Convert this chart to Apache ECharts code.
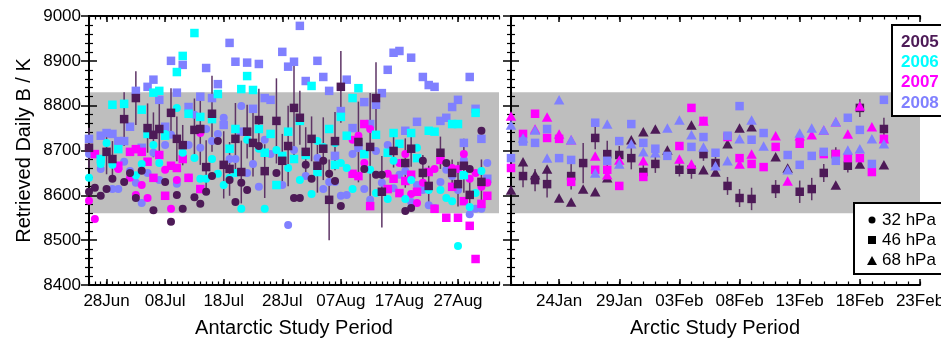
<!DOCTYPE html>
<html>
<head>
<meta charset="utf-8">
<script src="https://cdn.jsdelivr.net/npm/echarts@6/dist/echarts.min.js"></script>
<style>
html,body{margin:0;padding:0;background:#fff}
#main{width:941px;height:339px}
</style>
</head>
<body>
<div id="main"></div>
<script>
// Antarctic: day 0 = 25 Jun ; Arctic: day 0 = 20 Jan
const antTickDays = [3, 13, 23, 33, 43, 53, 63];
const antTickLabels = ['28Jun', '08Jul', '18Jul', '28Jul', '07Aug', '17Aug', '27Aug'];
const arcTickDays = [4, 9, 14, 19, 24, 29, 34];
const arcTickLabels = ['24Jan', '29Jan', '03Feb', '08Feb', '13Feb', '18Feb', '23Feb'];
const bandRange = [8560, 8830];
const years = ['2005', '2006', '2007', '2008'];
const yearColors = ['#4d1a57', '#00ffff', '#ff00ff', '#8080ff'];
const levels = ['32 hPa', '46 hPa', '68 hPa'];

// Antarctic, 32 hPa (circles): [day, B]
const antCi05 = [[0,8608],[1,8617],[2,8599],[3,8614],[4,8637],[6,8630],[7,8650],[8,8594],[9,8655],[11,8567],[13,8630],[14,8541],[15,8601],[16,8570],[18,8596],[19,8581],[20,8608],[21,8643],[22,8721],[24,8634],[25,8585],[26,8628],[27,8612],[29,8710],[32,8650],[35,8594],[36,8594],[37,8668],[38,8637],[40,8677],[41,8648],[42,8632],[43,8576],[47,8659],[49,8646],[50,8646],[54,8565],[55,8572],[57,8677],[61,8672],[65,8659],[67,8744]];
const antCi06 = [[0,8639],[2,8670],[3,8717],[4,8668],[8,8645],[9,8670],[11,8712],[12,8672],[13,8737],[15,8795],[16,8695],[18,8683],[19,8637],[20,8637],[21,8681],[22,8648],[23,8623],[24,8639],[25,8650],[26,8570],[27,8724],[29,8704],[30,8570],[32,8701],[34,8661],[36,8634],[38,8603],[39,8721],[40,8708],[42,8717],[43,8672],[44,8661],[45,8614],[48,8657],[49,8605],[51,8592],[52,8677],[54,8592],[55,8634],[56,8706],[58,8612],[60,8612],[61,8594],[62,8587],[63,8487],[65,8574],[66,8605],[67,8654]];
const antCi07 = [[0,8588],[1,8547],[5,8659],[7,8639],[8,8601],[9,8623],[10,8594],[13,8657],[14,8570],[15,8634],[17,8639],[19,8739],[45,8724],[46,8733],[47,8672],[48,8748],[51,8648],[53,8672],[54,8692],[55,8603],[56,8583],[57,8628],[59,8659],[62,8661],[63,8659],[64,8692],[65,8637],[66,8650],[67,8619],[68,8628]];
const antCi08 = [[0,8692],[2,8659],[4,8614],[5,8614],[6,8675],[7,8654],[8,8628],[9,8583],[10,8650],[11,8695],[12,8634],[13,8712],[14,8735],[15,8626],[17,8712],[18,8780],[19,8706],[20,8748],[21,8721],[22,8737],[23,8773],[24,8681],[25,8681],[26,8799],[27,8650],[28,8670],[29,8619],[30,8724],[31,8692],[33,8623],[34,8534],[35,8701],[36,8773],[37,8643],[39,8683],[40,8614],[41,8630],[42,8630],[43,8599],[44,8601],[45,8692],[47,8614],[48,8590],[49,8699],[50,8628],[51,8712],[52,8616],[53,8646],[54,8654],[55,8585],[56,8623],[57,8612],[58,8578],[59,8572],[60,8630],[61,8657],[62,8643],[63,8612],[64,8679],[65,8558],[66,8570],[67,8570],[68,8672]];

// Antarctic, 46 hPa (squares); 2005 carries [day, B, error]
const antSq05 = [[0,8706,45],[3,8697,50],[4,8681,40],[6,8770,60],[8,8817,60],[10,8750,55],[11,8735,50],[12,8748,65],[14,8784,55],[15,8726,50],[16,8712,45],[18,8746,70],[19,8748,80],[20,8663,60],[21,8782,85],[23,8668,75],[24,8659,60],[25,8726,80],[26,8652,70],[27,8742,60],[28,8717,75],[29,8768,70],[30,8654,60],[32,8766,95],[33,8677,60],[34,8710,90],[35,8795,110],[36,8773,60],[37,8697,55],[38,8726,50],[39,8666,60],[40,8704,70],[41,8590,90],[42,8721,65],[43,8842,80],[46,8719,90],[48,8708,120],[49,8817,80],[50,8608,80],[52,8699,37],[54,8672,55],[55,8704,40],[57,8650,40],[58,8621,45],[60,8695,36],[62,8650,30],[63,8625,50],[64,8666,60],[65,8601,40],[67,8630,50]];
const antSq06 = [[2,8681],[4,8802],[5,8703],[6,8804],[9,8791],[10,8737],[11,8829],[12,8833],[13,8733],[15,8875],[16,8911],[17,8782],[18,8962],[19,8775],[21,8770],[22,8826],[24,8704],[25,8748],[26,8837],[27,8866],[28,8835],[29,8748],[30,8695],[31,8737],[32,8623],[33,8688],[34,8742],[35,8681],[36,8766],[37,8690],[38,8844],[39,8652],[41,8748],[42,8668],[43,8775],[44,8733],[45,8817],[46,8839],[47,8692],[49,8735],[51,8695],[52,8739],[53,8715],[55,8739],[56,8683],[58,8744],[59,8742],[62,8759],[63,8759],[64,8645],[66,8784]];
const antSq07 = [[1,8692],[5,8666],[7,8697],[8,8703],[9,8697],[10,8675],[11,8639],[12,8690],[13,8599],[14,8666],[15,8661],[16,8681],[17,8639],[19,8614],[45,8648],[46,8643],[47,8759],[48,8576],[51,8614],[52,8637],[53,8605],[54,8632],[55,8646],[56,8608],[58,8652],[59,8570],[60,8679],[61,8550],[62,8619],[63,8550],[64,8587],[65,8532],[66,8458],[67,8581],[68,8599]];
const antSq08 = [[0,8726],[2,8733],[3,8739],[4,8737],[5,8721],[6,8721],[7,8753],[8,8833],[9,8706],[10,8842],[11,8858],[12,8813],[13,8753],[14,8900],[15,8829],[16,8891],[17,8797],[19,8820],[20,8884],[21,8817],[22,8848],[23,8757],[24,8940],[25,8898],[26,8742],[27,8896],[28,8793],[29,8893],[30,8817],[31,8813],[33,8920],[34,8887],[35,8898],[36,8978],[37,8855],[39,8900],[40,8864],[41,8833],[42,8688],[43,8788],[44,8858],[45,8750],[46,8706],[47,8808],[48,8759],[49,8802],[50,8828],[51,8880],[52,8918],[53,8922],[54,8744],[55,8907],[56,8764],[57,8864],[58,8846],[59,8842],[60,8766],[61,8773],[62,8797],[63,8813],[64,8717],[65,8864],[66,8793],[67,8726],[68,8637]];

// Arctic, 46 hPa (squares) and 68 hPa (triangles)
const arcSq05 = [[1,8643,25],[2,8634,25],[3,8625,30],[5,8643,30],[6,8672,45],[7,8728,25],[8,8692,30],[9,8690,20],[10,8683,25],[11,8652,20],[12,8670,20],[14,8657,15],[15,8657,20],[16,8692,15],[17,8672,15],[18,8621,20],[19,8594,20],[20,8592,25],[22,8614,20],[24,8608,25],[25,8614,25],[26,8650,20],[27,8692,15],[28,8666,15],[29,8795,20],[31,8748,25]];
const arcTr05 = [[0,8612],[1,8675],[2,8646],[3,8659],[4,8594],[5,8585],[6,8614],[7,8608],[8,8639],[10,8724],[11,8742],[12,8748],[13,8701],[15,8757],[16,8657],[17,8652],[18,8715],[19,8750],[20,8753],[22,8686],[23,8661],[27,8623],[29,8670],[31,8668]];
const arcSq07 = [[0,8661],[1,8737],[2,8782],[3,8728],[4,8726],[5,8630],[7,8657],[8,8657],[9,8621],[11,8641],[14,8710],[15,8795],[16,8766],[18,8730],[19,8683],[20,8670],[21,8663],[22,8708],[24,8715],[26,8692],[27,8692],[28,8683],[29,8683],[30,8652],[31,8726]];
const arcTr07 = [[0,8777],[2,8748],[3,8775],[4,8737],[5,8724],[7,8688],[8,8646],[9,8679],[11,8677],[14,8681],[15,8670],[16,8766],[19,8670],[20,8692],[22,8733],[23,8632],[24,8733],[25,8735],[26,8746],[27,8764],[28,8737],[29,8799],[30,8753],[31,8726]];
const arcSq08 = [[0,8683],[1,8720],[2,8717],[3,8748],[4,8683],[5,8679],[7,8762],[8,8677],[9,8721],[10,8759],[11,8717],[12,8704],[13,8688],[15,8708],[16,8730],[17,8695],[18,8733],[19,8799],[20,8724],[21,8739],[23,8690],[24,8668],[25,8688],[26,8697],[27,8677],[28,8773],[29,8746],[30,8670],[31,8813]];
const arcTr08 = [[0,8757],[1,8728],[2,8746],[3,8683],[4,8813],[5,8724],[7,8650],[8,8759],[9,8670],[10,8715],[11,8697],[12,8695],[13,8750],[14,8768],[15,8735],[16,8708],[17,8666],[18,8677],[19,8726],[20,8768],[21,8710],[23,8657],[24,8739],[25,8750],[26,8746],[27,8764],[28,8701],[29,8704],[30,8726],[31,8715]];

const FONT = '"Liberation Sans", Arial, Helvetica, sans-serif';
const chart = echarts.init(document.getElementById('main'), null, {renderer: 'canvas'});

function xAxes(grid, min, max, tickDays, tickLabels, name) {
  const daily = [];
  for (let d = min; d <= max; d++) daily.push(d);
  const base = {type: 'value', gridIndex: grid, min: min, max: max, z: 2, splitLine: {show: false}};
  const line = {show: true, lineStyle: {color: '#000', width: 2}};
  const major = {show: true, inside: true, length: 6, customValues: tickDays, lineStyle: {color: '#000', width: 1.5}};
  const minor = {show: true, inside: true, length: 3.5, customValues: daily, lineStyle: {color: '#000', width: 1.2}};
  return [
    Object.assign({}, base, {position: 'bottom', name: name, nameLocation: 'middle', nameGap: 33,
      nameTextStyle: {fontSize: 20, color: '#000', fontFamily: FONT},
      axisLine: line, axisTick: major,
      axisLabel: {customValues: tickDays, formatter: v => tickLabels[tickDays.indexOf(v)],
        fontSize: 17, color: '#000', margin: 8, fontFamily: FONT}}),
    Object.assign({}, base, {position: 'bottom', axisLine: {show: false}, axisTick: minor, axisLabel: {show: false}}),
    Object.assign({}, base, {position: 'top', axisLine: line, axisTick: major, axisLabel: {show: false}}),
    Object.assign({}, base, {position: 'top', axisLine: {show: false}, axisTick: minor, axisLabel: {show: false}})
  ];
}

function yAxis(grid, pos, withLabels) {
  const ax = {type: 'value', gridIndex: grid, position: pos, min: 8400, max: 9000, interval: 100, z: 2,
    splitLine: {show: false},
    axisLine: {show: true, lineStyle: {color: '#000', width: 2}},
    axisTick: {show: true, inside: true, length: 8, lineStyle: {color: '#000', width: 1.5}},
    minorTick: {show: true, splitNumber: 5, length: 4, lineStyle: {color: '#000', width: 1.2}},
    axisLabel: {show: withLabels, formatter: v => String(v), fontSize: 17, color: '#000', margin: 8, fontFamily: FONT}};
  if (withLabels) {
    ax.name = 'Retrieved Daily B / K';
    ax.nameLocation = 'middle';
    ax.nameGap = 55;
    ax.nameTextStyle = {fontSize: 20, color: '#000', fontFamily: FONT};
  }
  return ax;
}

function dots(data, symbol, size, color, xi, yi) {
  return {type: 'scatter', xAxisIndex: xi, yAxisIndex: yi, z: 4, silent: true,
    symbol: symbol, symbolSize: size, data: data.map(p => [p[0], p[1]]),
    itemStyle: {color: color, opacity: 1}};
}

function errBars(data, xi, yi) {
  return {type: 'custom', xAxisIndex: xi, yAxisIndex: yi, z: 3, silent: true,
    data: data.map(p => [p[0], p[1] - p[2], p[1] + p[2]]),
    renderItem: function (params, api) {
      const a = api.coord([api.value(0), api.value(1)]);
      const b = api.coord([api.value(0), api.value(2)]);
      return {type: 'line', shape: {x1: a[0], y1: a[1], x2: b[0], y2: b[1]},
        style: {stroke: '#5e3466', lineWidth: 1.5}};
    }};
}

function band(xi, yi) {
  return {type: 'scatter', xAxisIndex: xi, yAxisIndex: yi, z: 1, silent: true, data: [],
    markArea: {silent: true, itemStyle: {color: '#bebebe'},
      data: [[{yAxis: bandRange[0]}, {yAxis: bandRange[1]}]]}};
}

const SQ = 8.5, CI = 8, TR = [10.5, 9.5];
const c = yearColors;

const series = [
  band(0, 0), band(4, 2),
  errBars(antSq05, 0, 0), errBars(arcSq05, 4, 2),
  // Antarctic (later years underneath)
  dots(antCi08, 'circle', CI, c[3], 0, 0),
  dots(antSq08, 'rect', SQ, c[3], 0, 0),
  dots(antCi07, 'circle', CI, c[2], 0, 0),
  dots(antSq07, 'rect', SQ, c[2], 0, 0),
  dots(antCi06, 'circle', CI, c[1], 0, 0),
  dots(antSq06, 'rect', SQ, c[1], 0, 0),
  dots(antCi05, 'circle', CI, c[0], 0, 0),
  dots(antSq05, 'rect', SQ, c[0], 0, 0),
  // Arctic
  dots(arcTr05, 'triangle', TR, c[0], 4, 2),
  dots(arcSq05, 'rect', SQ, c[0], 4, 2),
  dots(arcSq07, 'rect', SQ, c[2], 4, 2),
  dots(arcTr07, 'triangle', TR, c[2], 4, 2),
  dots(arcSq08, 'rect', SQ, c[3], 4, 2),
  dots(arcTr08, 'triangle', TR, c[3], 4, 2)
];

const graphic = [
  {type: 'rect', z: 100, shape: {x: 892, y: 25, width: 60, height: 91}, style: {fill: '#fff', stroke: '#000', lineWidth: 2}},
  {type: 'rect', z: 100, shape: {x: 854, y: 203, width: 100, height: 71}, style: {fill: '#fff', stroke: '#000', lineWidth: 2}},
  {type: 'circle', z: 101, shape: {cx: 872, cy: 220, r: 3.5}, style: {fill: '#000'}},
  {type: 'rect', z: 101, shape: {x: 868, y: 236, width: 8, height: 8}, style: {fill: '#000'}},
  {type: 'polygon', z: 101, shape: {points: [[867, 265], [877, 265], [872, 256]]}, style: {fill: '#000'}}
];
years.forEach((y, i) => {
  graphic.push({type: 'text', z: 101, x: 901, y: 42 + i * 20.3,
    style: {text: y, fill: yearColors[i], font: 'bold 17px ' + FONT, verticalAlign: 'middle'}});
});
levels.forEach((l, i) => {
  graphic.push({type: 'text', z: 101, x: 882, y: 220 + i * 20,
    style: {text: l, fill: '#000', font: '17px ' + FONT, verticalAlign: 'middle'}});
});

// Axis titles placed where the original puts them
graphic.push({type: 'text', z: 101, x: 294, y: 328,
  style: {text: 'Antarctic Study Period', fill: '#000', font: '20px ' + FONT, align: 'center', verticalAlign: 'middle'}});
graphic.push({type: 'text', z: 101, x: 715, y: 328,
  style: {text: 'Arctic Study Period', fill: '#000', font: '20px ' + FONT, align: 'center', verticalAlign: 'middle'}});

const xs = [].concat(
  xAxes(0, 0, 70, antTickDays, antTickLabels, ''),
  xAxes(1, 0, 34, arcTickDays, arcTickLabels, '')
);

chart.setOption({
  animation: false,
  backgroundColor: '#fff',
  textStyle: {fontFamily: FONT},
  grid: [
    {left: 89, top: 16, width: 410, height: 269, outerBoundsMode: 'none'},
    {left: 511, top: 16, width: 409, height: 269, outerBoundsMode: 'none'}
  ],
  xAxis: xs,
  yAxis: [yAxis(0, 'left', true), yAxis(0, 'right', false), yAxis(1, 'left', false), yAxis(1, 'right', false)],
  series: series,
  graphic: graphic
});
</script>
</body>
</html>
